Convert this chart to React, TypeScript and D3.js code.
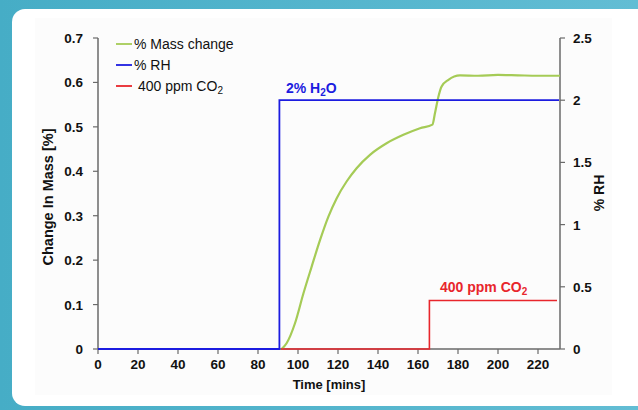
import React from "react";
import * as d3 from "d3";

const massTime = [91.8, 94.3, 98.5, 102.7, 106.8, 111, 115.2, 119.3, 124.3, 129.3, 136, 144.3, 152.7, 161, 167.2, 168.5, 170.2, 171.8, 175.2, 181, 190, 200, 210, 220, 231];
const massValues = [0, 0.013, 0.058, 0.125, 0.185, 0.245, 0.298, 0.339, 0.377, 0.407, 0.437, 0.463, 0.482, 0.497, 0.505, 0.531, 0.568, 0.591, 0.606, 0.616, 0.615, 0.617, 0.616, 0.615, 0.615];
const rhTime = [0, 90.7, 90.7, 230.5];
const rhValues = [0, 0, 2, 2];
const co2Time = [91.5, 165.7, 165.7, 229.5];
const co2Values = [0, 0, 0.39, 0.39];
const xTicks = [0, 20, 40, 60, 80, 100, 120, 140, 160, 180, 200, 220];
const leftTicks = [0, 0.1, 0.2, 0.3, 0.4, 0.5, 0.6, 0.7];
const rightTicks = [0, 0.5, 1, 1.5, 2, 2.5];
const rightTickLabels = ["0", "0.5", "1", "1.5", "2", "2.5"];

const FONT = "'Liberation Sans', Arial, Helvetica, sans-serif";
const GREEN = "#a5cb56";
const BLUE = "#1c1ce0";
const RED = "#e8262c";
const AXIS = "#6a6a6a";

export default function App() {
  const x = d3.scaleLinear().domain([0, 231]).range([98, 560]);
  const yL = d3.scaleLinear().domain([0, 0.7]).range([349, 38]);
  const yR = d3.scaleLinear().domain([0, 2.5]).range([349, 38]);

  const massLine = d3
    .line<number>()
    .x((_, i) => x(massTime[i]))
    .y((d) => yL(d))
    .curve(d3.curveMonotoneX)(massValues) as string;
  const rhLine = d3
    .line<number>()
    .x((_, i) => x(rhTime[i]))
    .y((d) => yR(d))(rhValues) as string;
  const co2Line = d3
    .line<number>()
    .x((_, i) => x(co2Time[i]))
    .y((d) => yR(d))(co2Values) as string;

  const legend = [
    { color: GREEN, label: "% Mass change", sub: "" },
    { color: BLUE, label: "% RH", sub: "" },
    { color: RED, label: "400 ppm CO", sub: "2" },
  ];

  return (
    <svg
      width={638}
      height={410}
      style={{ position: "absolute", left: 0, top: 0, display: "block" }}
      fontFamily={FONT}
    >
      <defs>
        <linearGradient id="bg" x1="0" y1="0" x2="1" y2="0">
          <stop offset="0" stopColor="#46adc6" />
          <stop offset="1" stopColor="#62bdd4" />
        </linearGradient>
      </defs>
      <rect x={0} y={0} width={638} height={410} fill="url(#bg)" />
      <rect x={12} y={9} width={640} height={397} rx={13} fill="#ffffff" />
      <rect x={35} y={18} width={577} height={377} fill="#fcfcfc" />

      {/* Left axis */}
      <line x1={x(0)} x2={x(0)} y1={yL(0.7)} y2={yL(0)} stroke={AXIS} strokeWidth={1.5} />
      {leftTicks.map((t) => (
        <g key={"l" + t}>
          <line x1={x(0) - 5} x2={x(0)} y1={yL(t)} y2={yL(t)} stroke={AXIS} strokeWidth={1.2} />
          <text x={83} y={yL(t) + 5} textAnchor="end" fontSize={13.5} fontWeight="bold" fill="#111">
            {t === 0 ? "0" : t.toFixed(1)}
          </text>
        </g>
      ))}

      {/* Right axis */}
      <line x1={x(231)} x2={x(231)} y1={yR(2.5)} y2={yR(0)} stroke={AXIS} strokeWidth={1.5} />
      {rightTicks.map((t, i) => (
        <g key={"r" + t}>
          <line x1={x(231)} x2={x(231) + 5} y1={yR(t)} y2={yR(t)} stroke={AXIS} strokeWidth={1.2} />
          <text x={573} y={yR(t) + 5} textAnchor="start" fontSize={13.5} fontWeight="bold" fill="#111">
            {rightTickLabels[i]}
          </text>
        </g>
      ))}

      {/* X axis */}
      <line x1={x(0)} x2={x(231)} y1={yL(0)} y2={yL(0)} stroke={AXIS} strokeWidth={1.5} />
      {xTicks.map((t) => (
        <g key={"x" + t}>
          <line x1={x(t)} x2={x(t)} y1={yL(0)} y2={yL(0) + 5} stroke={AXIS} strokeWidth={1.2} />
          <text x={x(t)} y={369} textAnchor="middle" fontSize={13.5} fontWeight="bold" fill="#111">
            {t}
          </text>
        </g>
      ))}

      {/* Axis titles */}
      <text x={329} y={389} textAnchor="middle" fontSize={13} fontWeight="bold" fill="#111">
        Time [mins]
      </text>
      <text
        transform="translate(53,197) rotate(-90)"
        textAnchor="middle"
        fontSize={14.5}
        fontWeight="bold"
        fill="#111"
      >
        Change In Mass [%]
      </text>
      <text
        transform="translate(604,193) rotate(-90)"
        textAnchor="middle"
        fontSize={14}
        fontWeight="bold"
        fill="#111"
      >
        % RH
      </text>

      {/* Series */}
      <path d={massLine} fill="none" stroke={GREEN} strokeWidth={2.2} strokeLinejoin="round" />
      <path d={rhLine} fill="none" stroke={BLUE} strokeWidth={1.8} />
      <path d={co2Line} fill="none" stroke={RED} strokeWidth={1.6} />

      {/* Annotations */}
      <text x={286} y={93} fontSize={14} fontWeight="bold" fill={BLUE}>
        2% H
        <tspan fontSize={10} dy={3}>2</tspan>
        <tspan dy={-3}>O</tspan>
      </text>
      <text x={440} y={292} fontSize={14} fontWeight="bold" fill={RED}>
        400 ppm CO
        <tspan fontSize={10} dy={3}>2</tspan>
      </text>

      {/* Legend */}
      {legend.map((l, i) => (
        <g key={l.label}>
          <line x1={116} x2={132} y1={44 + i * 21} y2={44 + i * 21} stroke={l.color} strokeWidth={1.8} />
          <text x={i === 2 ? 138 : 134} y={49 + i * 21} fontSize={14} fill="#111">
            {l.label}
            {l.sub ? (
              <tspan fontSize={10} dy={3}>
                {l.sub}
              </tspan>
            ) : null}
          </text>
        </g>
      ))}
    </svg>
  );
}
